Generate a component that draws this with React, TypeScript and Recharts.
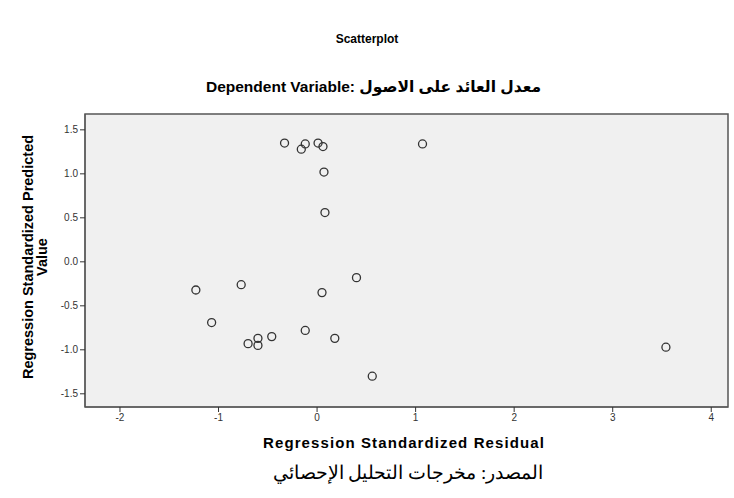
import React from "react";
import {
  ScatterChart,
  Scatter,
  XAxis,
  YAxis,
  ReferenceArea,
} from "recharts";

// residual (x) and predicted value (y) for each case
const residuals = [
  -0.33, -0.12, -0.16, 0.01, 0.06, 0.07, 0.08, 0.4, -1.23, -0.77, 0.05,
  -1.07, -0.12, -0.46, -0.6, -0.7, -0.6, 0.18, 0.56, 1.07, 3.54,
];
const predicted = [
  1.35, 1.34, 1.28, 1.35, 1.31, 1.02, 0.56, -0.18, -0.32, -0.26, -0.35,
  -0.69, -0.78, -0.85, -0.87, -0.93, -0.95, -0.87, -1.3, 1.34, -0.97,
];
const xTicks = [-2, -1, 0, 1, 2, 3, 4];
const yTicks = [-1.5, -1.0, -0.5, 0.0, 0.5, 1.0, 1.5];

const points = residuals.map((r, i) => ({ x: r, y: predicted[i] }));

const xDomain = [-2.355, 4.17];
const yDomain = [-1.65, 1.68];

const sans = "Arial, 'Liberation Sans', 'DejaVu Sans', sans-serif";

const OpenCircle = (props: any) => (
  <circle
    cx={props.cx}
    cy={props.cy}
    r={4}
    fill="none"
    stroke="#333"
    strokeWidth={1.3}
  />
);

export default function App() {
  return (
    <div
      style={{
        position: "absolute",
        left: 0,
        top: 0,
        width: 734,
        height: 498,
        background: "#fff",
        fontFamily: sans,
      }}
    >
      <div
        style={{
          position: "absolute",
          left: 0,
          width: 734,
          top: 32,
          textAlign: "center",
          fontWeight: "bold",
          fontSize: 12,
        }}
      >
        Scatterplot
      </div>
      <div
        style={{
          position: "absolute",
          left: 0,
          width: 747,
          top: 78,
          textAlign: "center",
          fontWeight: "bold",
          fontSize: 15.5,
          direction: "ltr",
        }}
      >
        Dependent Variable: معدل العائد على الاصول
      </div>

      <ScatterChart
        width={734}
        height={498}
        margin={{ top: 114, right: 6, bottom: 71, left: 55 }}
      >
        <ReferenceArea
          x1={xDomain[0]}
          x2={xDomain[1]}
          y1={yDomain[0]}
          y2={yDomain[1]}
          fill="#f0f0f0"
          fillOpacity={1}
          stroke="#555"
          strokeWidth={1.5}
          ifOverflow="extendDomain"
        />
        <XAxis
          type="number"
          dataKey="x"
          domain={xDomain}
          ticks={xTicks}
          allowDataOverflow
          height={20}
          tickSize={5}
          axisLine={{ stroke: "#555" }}
          tickLine={{ stroke: "#333" }}
          tick={{ fontSize: 10, fill: "#333", fontFamily: sans }}
        />
        <YAxis
          type="number"
          dataKey="y"
          domain={yDomain}
          ticks={yTicks}
          allowDataOverflow
          width={30}
          tickSize={5}
          tickFormatter={(v: number) => v.toFixed(1)}
          axisLine={{ stroke: "#555" }}
          tickLine={{ stroke: "#333" }}
          tick={{ fontSize: 10, fill: "#333", fontFamily: sans }}
        />
        <Scatter data={points} shape={OpenCircle} isAnimationActive={false} />
      </ScatterChart>

      <div
        style={{
          position: "absolute",
          left: 36,
          top: 257,
          width: 0,
          height: 0,
        }}
      >
        <div
          style={{
            position: "absolute",
            width: 300,
            left: -150,
            top: -15,
            height: 30,
            transform: "rotate(-90deg)",
            transformOrigin: "150px 15px",
            textAlign: "center",
            fontWeight: "bold",
            fontSize: 14.5,
            lineHeight: "14px",
          }}
        >
          Regression Standardized Predicted
          <br />
          Value
        </div>
      </div>

      <div
        style={{
          position: "absolute",
          left: 104,
          width: 600,
          top: 434,
          textAlign: "center",
          fontWeight: "bold",
          fontSize: 15,
          letterSpacing: 1.1,
        }}
      >
        Regression Standardized Residual
      </div>
      <div
        style={{
          position: "absolute",
          left: 0,
          width: 816,
          top: 461,
          textAlign: "center",
          fontSize: 19,
          fontFamily: "'Liberation Serif', 'DejaVu Serif', serif",
          direction: "rtl",
        }}
      >
        المصدر: مخرجات التحليل الإحصائي
      </div>
    </div>
  );
}
